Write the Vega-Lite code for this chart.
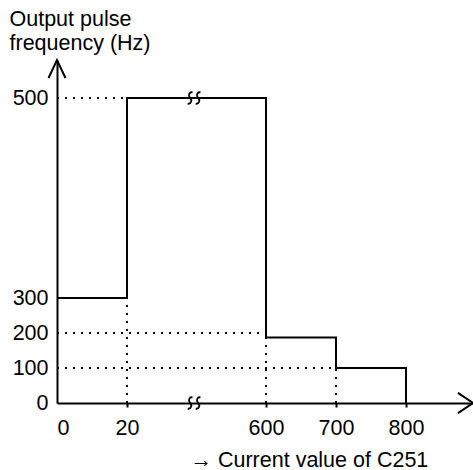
{
  "$schema": "https://vega.github.io/schema/vega-lite/v6.json",
  "autosize": "none",
  "width": 416,
  "height": 343,
  "padding": {"left": 57, "top": 60, "right": 0, "bottom": 67},
  "background": "white",
  "config": {"view": {"stroke": null}, "font": "Liberation Sans"},
  "datasets": {
    "step": [
      {"i": 1, "value": 0, "freq": 300},
      {"i": 2, "value": 20, "freq": 300},
      {"i": 3, "value": 20, "freq": 500},
      {"i": 4, "value": 600, "freq": 500},
      {"i": 5, "value": 600, "freq": 187},
      {"i": 6, "value": 700, "freq": 187},
      {"i": 7, "value": 700, "freq": 100},
      {"i": 8, "value": 800, "freq": 100},
      {"i": 9, "value": 800, "freq": 0}
    ],
    "guides": [
      {"x": 0, "x2": 20, "y": 500, "y2": 500},
      {"x": 0, "x2": 600, "y": 200, "y2": 200},
      {"x": 0, "x2": 700, "y": 100, "y2": 100},
      {"x": 20, "x2": 20, "y": 0, "y2": 300},
      {"x": 600, "x2": 600, "y": 0, "y2": 200},
      {"x": 700, "x2": 700, "y": 0, "y2": 100}
    ],
    "breaks": [
      {"value": 300, "freq": 500},
      {"value": 300, "freq": 0}
    ]
  },
  "layer": [
    {
      "data": {"name": "guides"},
      "mark": {"type": "rule", "strokeDash": [2, 6], "strokeWidth": 2, "color": "black"},
      "encoding": {
        "x": {"field": "x", "type": "quantitative",
          "scale": {"domain": [0, 20, 600, 800, 896], "range": [0, 70, 209, 349, 416], "nice": false, "zero": false},
          "axis": {
            "values": [0, 20, 600, 700, 800],
            "grid": false,
            "domainColor": "black", "domainWidth": 2,
            "tickSize": 4, "tickWidth": 2,
            "tickColor": {"condition": {"test": "datum.value == 0", "value": "transparent"}, "value": "black"},
            "labelFont": "Liberation Sans", "labelFontSize": 21.5, "labelColor": "black",
            "labelBaseline": "alphabetic", "labelPadding": 27,
            "labelAlign": {"condition": {"test": "datum.value == 0", "value": "left"}, "value": "center"},
            "labelFlush": false, "labelOverlap": false,
            "title": "→ Current value of C251",
            "titleFont": "Liberation Sans", "titleFontSize": 21.5, "titleFontWeight": "normal", "titleColor": "black",
            "titleAnchor": "start", "titleAlign": "left", "titleBaseline": "alphabetic",
            "titleX": 133, "titleY": 63
          }
        },
        "x2": {"field": "x2"},
        "y": {"field": "y", "type": "quantitative",
          "scale": {"domain": [0, 300, 500, 538], "range": [343, 238, 38, 0], "nice": false, "zero": false},
          "axis": {
            "values": [0, 100, 200, 300, 500],
            "grid": false,
            "domainColor": "black", "domainWidth": 2,
            "ticks": false, "tickSize": 0,
            "labelFont": "Liberation Sans", "labelFontSize": 21.5, "labelColor": "black",
            "labelPadding": 9, "labelFlush": false, "labelOverlap": false, "labelBaseline": "middle",
            "title": ["Output pulse", "frequency (Hz)"],
            "titleFont": "Liberation Sans", "titleFontSize": 21.5, "titleFontWeight": "normal", "titleColor": "black",
            "titleAngle": 0, "titleAlign": "left", "titleBaseline": "alphabetic", "titleLineHeight": 24,
            "titleX": -48, "titleY": -35
          }
        },
        "y2": {"field": "y2"}
      }
    },
    {
      "data": {"name": "step"},
      "mark": {"type": "line", "color": "black", "strokeWidth": 2, "interpolate": "linear"},
      "encoding": {
        "x": {"field": "value", "type": "quantitative"},
        "y": {"field": "freq", "type": "quantitative"},
        "order": {"field": "i", "type": "quantitative"}
      }
    },
    {
      "data": {"name": "breaks"},
      "mark": {"type": "point", "filled": false, "stroke": "black", "strokeWidth": 1.8, "opacity": 1,
        "size": 256,
        "shape": "M-0.2,-0.7C-0.6,-0.8,-0.8,-0.3,-0.5,0C-0.2,0.3,-0.4,0.8,-0.8,0.7M0.8,-0.7C0.4,-0.8,0.2,-0.3,0.5,0C0.8,0.3,0.6,0.8,0.2,0.7"},
      "encoding": {
        "x": {"field": "value", "type": "quantitative"},
        "y": {"field": "freq", "type": "quantitative"}
      }
    },
    {
      "data": {"values": [{"value": 0, "freq": 538}]},
      "mark": {"type": "point", "filled": false, "stroke": "black", "strokeWidth": 2, "opacity": 1,
        "size": 1296, "shape": "M-0.47,1L0,0L0.47,1"},
      "encoding": {
        "x": {"field": "value", "type": "quantitative"},
        "y": {"field": "freq", "type": "quantitative"}
      }
    },
    {
      "data": {"values": [{"value": 896, "freq": 0}]},
      "mark": {"type": "point", "filled": false, "stroke": "black", "strokeWidth": 2, "opacity": 1,
        "size": 900, "shape": "M-1,-0.67L0,0L-1,0.67"},
      "encoding": {
        "x": {"field": "value", "type": "quantitative"},
        "y": {"field": "freq", "type": "quantitative"}
      }
    }
  ]
}
